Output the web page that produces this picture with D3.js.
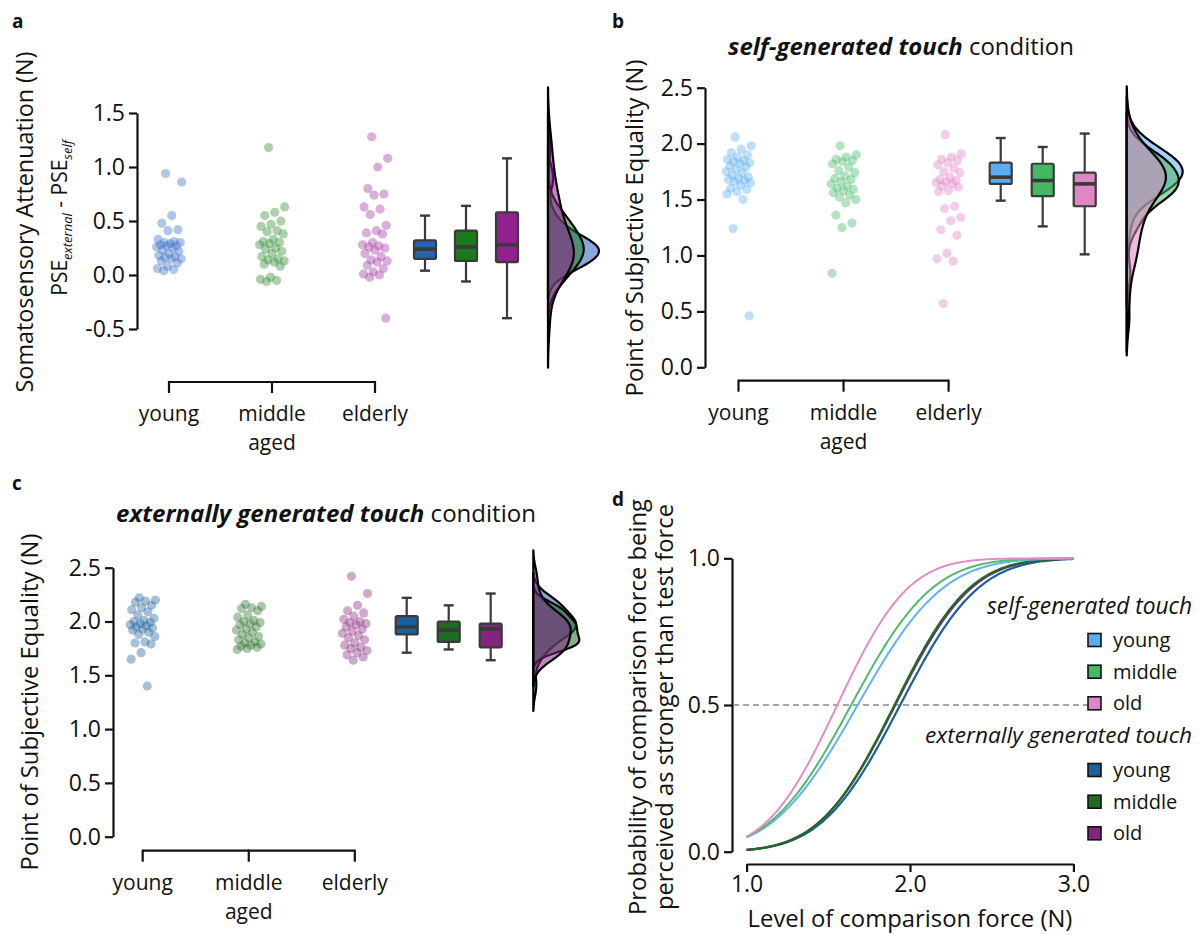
<!DOCTYPE html>
<html><head><meta charset="utf-8">
<script src="https://cdn.jsdelivr.net/npm/d3@7"></script>
<style>
body{margin:0;background:#fff}
svg{display:block}
text{font-family:"Open Sans",Lato,sans-serif;fill:#111}
</style>
</head><body>
<svg id="chart" width="1200" height="935"></svg>
<script>
// ---------------- DATA ----------------
const groups = ["young", "middle", "elderly"];
const groupLabels = [["young"], ["middle", "aged"], ["elderly"]];

// Panel a: somatosensory attenuation (N)
const attenYoung = [0.94, 0.86, 0.55, 0.48, 0.42, 0.41, 0.33, 0.31, 0.30, 0.30, 0.29, 0.28, 0.27, 0.27, 0.26, 0.25, 0.23, 0.22, 0.20, 0.18, 0.17, 0.16, 0.15, 0.15, 0.13, 0.11, 0.08, 0.06, 0.05, 0.04];
const attenMiddle = [1.18, 0.63, 0.58, 0.55, 0.50, 0.47, 0.45, 0.41, 0.40, 0.38, 0.33, 0.31, 0.30, 0.29, 0.28, 0.25, 0.24, 0.22, 0.20, 0.17, 0.15, 0.14, 0.13, 0.12, 0.10, 0.08, -0.02, -0.04, -0.05, -0.06];
const attenElderly = [1.28, 1.08, 1.00, 0.80, 0.75, 0.74, 0.63, 0.61, 0.56, 0.46, 0.41, 0.39, 0.38, 0.30, 0.28, 0.27, 0.26, 0.25, 0.23, 0.20, 0.17, 0.14, 0.13, 0.12, 0.09, 0.06, 0.03, 0.01, 0.00, -0.02, -0.40];
// box stats: [lower whisker, q1, median, q3, upper whisker]
const attenBoxes = [[0.04, 0.15, 0.24, 0.32, 0.55], [-0.06, 0.13, 0.26, 0.41, 0.64], [-0.40, 0.12, 0.28, 0.58, 1.08]];
const attenTicks = [-0.5, 0.0, 0.5, 1.0, 1.5];

// Panel b: PSE self-generated touch (N)
const selfYoung = [2.06, 1.98, 1.95, 1.92, 1.90, 1.88, 1.86, 1.85, 1.84, 1.83, 1.82, 1.80, 1.79, 1.77, 1.75, 1.74, 1.72, 1.70, 1.69, 1.68, 1.67, 1.66, 1.65, 1.63, 1.60, 1.59, 1.57, 1.55, 1.50, 1.24, 0.46];
const selfMiddle = [1.98, 1.90, 1.88, 1.86, 1.85, 1.84, 1.82, 1.79, 1.76, 1.74, 1.71, 1.69, 1.68, 1.66, 1.64, 1.62, 1.60, 1.59, 1.58, 1.56, 1.54, 1.52, 1.50, 1.47, 1.36, 1.29, 1.25, 0.84];
const selfElderly = [2.08, 1.91, 1.88, 1.86, 1.85, 1.83, 1.81, 1.78, 1.75, 1.74, 1.70, 1.68, 1.67, 1.66, 1.65, 1.64, 1.62, 1.61, 1.58, 1.57, 1.44, 1.42, 1.34, 1.31, 1.23, 1.18, 1.02, 0.97, 0.95, 0.57];
const selfBoxes = [[1.49, 1.64, 1.70, 1.83, 2.05], [1.26, 1.53, 1.67, 1.82, 1.97], [1.01, 1.44, 1.64, 1.74, 2.09]];
const pseTicks = [0.0, 0.5, 1.0, 1.5, 2.0, 2.5];

// Panel c: PSE externally generated touch (N)
const extYoung = [2.22, 2.20, 2.19, 2.18, 2.15, 2.13, 2.11, 2.09, 2.06, 2.03, 2.01, 2.00, 1.99, 1.98, 1.97, 1.96, 1.95, 1.94, 1.93, 1.92, 1.90, 1.88, 1.86, 1.81, 1.80, 1.79, 1.71, 1.65, 1.40];
const extMiddle = [2.16, 2.14, 2.13, 2.12, 2.10, 2.06, 2.04, 2.01, 2.00, 1.99, 1.98, 1.97, 1.95, 1.93, 1.92, 1.90, 1.88, 1.86, 1.85, 1.83, 1.81, 1.80, 1.79, 1.78, 1.77, 1.76, 1.75, 1.74];
const extElderly = [2.42, 2.26, 2.15, 2.10, 2.08, 2.05, 2.02, 2.00, 1.99, 1.98, 1.97, 1.95, 1.93, 1.91, 1.89, 1.87, 1.85, 1.83, 1.80, 1.78, 1.76, 1.75, 1.73, 1.71, 1.69, 1.67, 1.64];
const extBoxes = [[1.71, 1.88, 1.95, 2.05, 2.22], [1.74, 1.81, 1.92, 2.00, 2.15], [1.64, 1.76, 1.93, 1.98, 2.26]];

// Panel d: psychometric fits (cumulative Gaussian), PSE and sigma per group
const curveGroups = ["young", "middle", "old"];
const selfPSE = [1.68, 1.64, 1.555];
const selfSigma = [0.41, 0.39, 0.34];
const extPSE = [1.94, 1.905, 1.91];
const extSigma = [0.375, 0.36, 0.365];
const forceTicks = [1.0, 2.0, 3.0];
const probTicks = [0.0, 0.5, 1.0];

// ---------------- STYLE ----------------
const colA = ["#3a70c6", "#2f8a2f", "#a335a3"];
const boxA = ["#2a62b8", "#1b7a1b", "#93208f"];
const colB = ["#5aaef0", "#45ba63", "#e083c5"];
const boxB = ["#58acf0", "#45b962", "#df86c4"];
const colC = ["#1f629c", "#2a732e", "#85287f"];
const boxC = ["#1b5f9b", "#1e6b22", "#822480"];
const INK = "#111";
const BOXINK = "#3a3a3a";
const FS = 21;
const TICKFS = 23;

const svg = d3.select("#chart");

function fit(sel, target) {
  const w = sel.node().getComputedTextLength();
  const fs = parseFloat(sel.attr("font-size"));
  if (w > 0) sel.attr("font-size", (fs * target / w).toFixed(2));
  return sel;
}

function erf(x) {
  const t = 1 / (1 + 0.3275911 * Math.abs(x));
  const y = 1 - (((((1.061405429 * t - 1.453152027) * t) + 1.421413741) * t - 0.284496736) * t + 0.254829592) * t * Math.exp(-x * x);
  return x >= 0 ? y : -y;
}
function normCdf(x, mu, s) { return 0.5 * (1 + erf((x - mu) / (s * Math.SQRT2))); }

function kde(values, cut) {
  const n = values.length;
  const bw = d3.deviation(values) * Math.pow(n, -0.2);
  const lo = d3.min(values) - cut * bw, hi = d3.max(values) + cut * bw;
  const pts = [];
  const N = 160;
  for (let i = 0; i <= N; i++) {
    const v = lo + (hi - lo) * i / N;
    let s = 0;
    for (const d of values) { const z = (v - d) / bw; s += Math.exp(-0.5 * z * z); }
    pts.push([v, s / (n * bw * Math.sqrt(2 * Math.PI))]);
  }
  return pts;
}

function jitter(i) { return (((i * 0.6180339887 + 0.37) % 1) - 0.5) * 2; }

function styleAxis(a) {
  a.select(".domain").attr("stroke", INK).attr("stroke-width", 2.2);
  a.selectAll(".tick line").attr("stroke", INK).attr("stroke-width", 2.2);
  a.selectAll(".tick text").attr("font-size", TICKFS).attr("fill", INK).attr("font-family", "Open Sans");
}

function stripPanel(cfg) {
  const g = svg.append("g");
  const y = d3.scaleLinear().domain(cfg.yDomain).range(cfg.yRange);
  const px = d3.scalePoint().domain(groups).range(cfg.ptRange);
  const bx = d3.scalePoint().domain(groups).range(cfg.boxRange);

  const ax = g.append("g").attr("transform", `translate(${cfg.axisX},0)`)
    .call(d3.axisLeft(y).tickValues(cfg.ticks).tickFormat(d => d.toFixed(1)).tickSize(8).tickSizeOuter(0).tickPadding(4));
  styleAxis(ax);

  g.append("line").attr("x1", px(groups[0])).attr("x2", px(groups[2]))
    .attr("y1", cfg.bracketY).attr("y2", cfg.bracketY).attr("stroke", INK).attr("stroke-width", 2.2);
  groups.forEach((gr, i) => {
    g.append("line").attr("x1", px(gr)).attr("x2", px(gr)).attr("y1", cfg.bracketY - 1).attr("y2", cfg.bracketY + 11)
      .attr("stroke", INK).attr("stroke-width", 2.2);
    groupLabels[i].forEach((t, k) => {
      g.append("text").attr("x", px(gr)).attr("y", cfg.bracketY + 39 + k * 29)
        .attr("text-anchor", "middle").attr("font-size", FS).text(t);
    });
  });

  const dens = cfg.data.map(d => kde(d, 2.5));
  const maxD = d3.max(dens, ds => d3.max(ds, p => p[1]));
  const dx = d3.scaleLinear().domain([0, maxD]).range([cfg.densX, cfg.densX + cfg.densW]);
  const area = d3.line().x(p => dx(p[1])).y(p => y(p[0])).curve(d3.curveBasis);
  dens.forEach((ds, i) => {
    const closed = [[ds[0][0], 0], ...ds, [ds[ds.length - 1][0], 0]];
    g.append("path").attr("d", area(closed) + "Z")
      .attr("fill", cfg.boxCol[i]).attr("fill-opacity", 0.55)
      .attr("stroke", "#000").attr("stroke-width", 2.2).attr("stroke-linejoin", "round");
  });

  cfg.data.forEach((d, i) => {
    g.append("g").selectAll("circle").data(d).join("circle")
      .attr("cx", (v, k) => px(groups[i]) + jitter(k) * 13)
      .attr("cy", v => y(v)).attr("r", 4.6)
      .attr("fill", cfg.ptCol[i]).attr("fill-opacity", 0.4);
  });

  cfg.boxes.forEach((b, i) => {
    const cx = bx(groups[i]), w = 22, cap = 10;
    const bg = g.append("g");
    bg.append("line").attr("x1", cx).attr("x2", cx).attr("y1", y(b[0])).attr("y2", y(b[4])).attr("stroke", BOXINK).attr("stroke-width", 2.2);
    [b[0], b[4]].forEach(v => bg.append("line").attr("x1", cx - cap / 2).attr("x2", cx + cap / 2).attr("y1", y(v)).attr("y2", y(v)).attr("stroke", BOXINK).attr("stroke-width", 2.4));
    bg.append("rect").attr("x", cx - w / 2).attr("width", w).attr("y", y(b[3])).attr("height", y(b[1]) - y(b[3]))
      .attr("fill", cfg.boxCol[i]).attr("stroke", BOXINK).attr("stroke-width", 2.2).attr("rx", 1.5);
    bg.append("line").attr("x1", cx - w / 2).attr("x2", cx + w / 2).attr("y1", y(b[2])).attr("y2", y(b[2])).attr("stroke", BOXINK).attr("stroke-width", 3.6);
  });

  if (cfg.title) {
    const t = g.append("text").attr("x", cfg.title.x).attr("y", cfg.title.y).attr("text-anchor", "middle").attr("font-size", 21);
    t.append("tspan").attr("font-weight", "bold").attr("font-style", "italic").text(cfg.title.bold);
    t.append("tspan").text(" condition");
    fit(t, cfg.title.w);
  }
  return g;
}

// Panel a
stripPanel({
  yDomain: [-0.5, 1.5], yRange: [329, 113], ticks: attenTicks, axisX: 137,
  ptRange: [169, 375], boxRange: [425, 507], densX: 548, densW: 51, bracketY: 382,
  data: [attenYoung, attenMiddle, attenElderly], boxes: attenBoxes, ptCol: colA, boxCol: boxA
});
{
  const t1 = svg.append("text").attr("transform", "translate(33,222) rotate(-90)").attr("text-anchor", "middle").attr("font-size", FS)
    .text("Somatosensory Attenuation (N)");
  fit(t1, 341);
  const t2 = svg.append("text").attr("transform", "translate(67,218) rotate(-90)").attr("text-anchor", "middle").attr("font-size", FS);
  t2.append("tspan").text("PSE");
  t2.append("tspan").attr("font-size", 13).attr("font-style", "italic").attr("dy", 5).text("external");
  t2.append("tspan").attr("dy", -5).text(" - PSE");
  t2.append("tspan").attr("font-size", 13).attr("font-style", "italic").attr("dy", 5).text("self");
}

// Panel b
stripPanel({
  yDomain: [0, 2.5], yRange: [367.3, 87.7], ticks: pseTicks, axisX: 705,
  ptRange: [738.5, 948.6], boxRange: [1000.7, 1084.7], densX: 1126.7, densW: 56, bracketY: 380.7,
  data: [selfYoung, selfMiddle, selfElderly], boxes: selfBoxes, ptCol: colB, boxCol: boxB,
  title: { x: 901, y: 55, bold: "self-generated touch", w: 346 }
});
fit(svg.append("text").attr("transform", "translate(643,228) rotate(-90)").attr("text-anchor", "middle").attr("font-size", FS)
  .text("Point of Subjective Equality (N)"), 337);

// Panel c
stripPanel({
  yDomain: [0, 2.5], yRange: [836.7, 567.7], ticks: pseTicks, axisX: 113,
  ptRange: [142.7, 354.8], boxRange: [406.7, 490.7], densX: 533.3, densW: 46, bracketY: 850.7,
  data: [extYoung, extMiddle, extElderly], boxes: extBoxes, ptCol: colC, boxCol: boxC,
  title: { x: 326, y: 522, bold: "externally generated touch", w: 420 }
});
fit(svg.append("text").attr("transform", "translate(38,702) rotate(-90)").attr("text-anchor", "middle").attr("font-size", FS)
  .text("Point of Subjective Equality (N)"), 337);

// Panel d
{
  const g = svg.append("g");
  const x = d3.scaleLinear().domain([1, 3]).range([746.6, 1073.4]);
  const y = d3.scaleLinear().domain([0, 1]).range([851.7, 558.3]);
  const ay = g.append("g").attr("transform", "translate(732,0)")
    .call(d3.axisLeft(y).tickValues(probTicks).tickFormat(d => d.toFixed(1)).tickSize(8).tickSizeOuter(0).tickPadding(4));
  const ax = g.append("g").attr("transform", "translate(0,864)")
    .call(d3.axisBottom(x).tickValues(forceTicks).tickFormat(d => d.toFixed(1)).tickSize(8).tickSizeOuter(0).tickPadding(4));
  styleAxis(ay); styleAxis(ax);

  g.append("line").attr("x1", 733).attr("x2", 1088).attr("y1", y(0.5)).attr("y2", y(0.5))
    .attr("stroke", "#888").attr("stroke-width", 1.6).attr("stroke-dasharray", "6,4");

  const xs = d3.range(0, 201).map(i => 1 + 2 * i / 200);
  const line = d3.line().x(p => x(p[0])).y(p => y(p[1]));
  const extCols = boxC, selfCols = ["#64b2f2", "#4dbd6d", "#e38bcb"];
  [0, 2, 1].forEach(i => {
    g.append("path").attr("d", line(xs.map(v => [v, normCdf(v, extPSE[i], extSigma[i])])))
      .attr("fill", "none").attr("stroke", extCols[i]).attr("stroke-width", 2.2);
  });
  [0, 1, 2].forEach(i => {
    g.append("path").attr("d", line(xs.map(v => [v, normCdf(v, selfPSE[i], selfSigma[i])])))
      .attr("fill", "none").attr("stroke", selfCols[i]).attr("stroke-width", 2);
  });

  const leg = (title, ty, tw, rows, cols) => {
    fit(g.append("text").attr("x", 1192).attr("y", ty).attr("text-anchor", "end").attr("font-style", "italic").attr("font-size", 20).text(title), tw);
    rows.forEach((ry, i) => {
      g.append("rect").attr("x", 1088).attr("y", ry - 6.5).attr("width", 13).attr("height", 13)
        .attr("fill", cols[i]).attr("stroke", "#111").attr("stroke-width", 1.6);
      g.append("text").attr("x", 1113).attr("y", ry + 7).attr("font-size", 20).text(curveGroups[i]);
    });
  };
  leg("self-generated touch", 614, 205, [640, 671.7, 703.3], boxB);
  leg("externally generated touch", 743, 267, [770, 801.7, 833.3], boxC);

  fit(g.append("text").attr("x", 910).attr("y", 927).attr("text-anchor", "middle").attr("font-size", FS).text("Level of comparison force (N)"), 325);
  fit(g.append("text").attr("transform", "translate(646,707) rotate(-90)").attr("text-anchor", "middle").attr("font-size", FS)
    .text("Probability of comparison force being"), 416);
  fit(g.append("text").attr("transform", "translate(673,707) rotate(-90)").attr("text-anchor", "middle").attr("font-size", FS)
    .text("perceived as stronger than test force"), 406);
}

[["a", 12, 28], ["b", 612, 28], ["c", 12, 490], ["d", 612, 506]].forEach(([t, x, y]) => {
  svg.append("text").attr("x", x).attr("y", y).attr("font-size", 19).attr("font-weight", "bold").attr("font-family", "Arial, Liberation Sans, sans-serif").text(t);
});
</script>
</body></html>
